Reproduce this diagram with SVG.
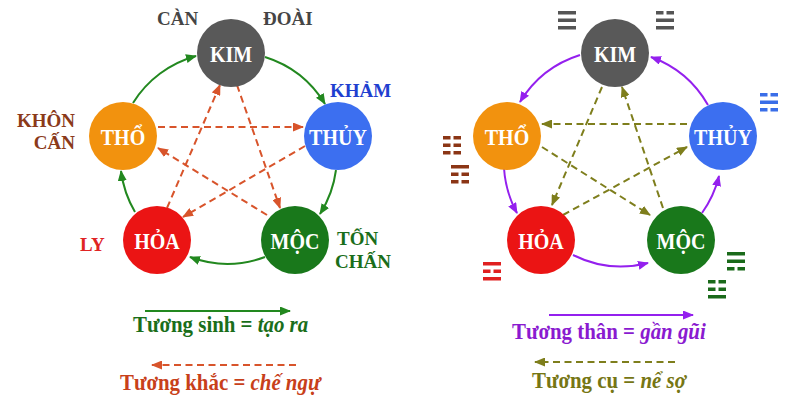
<svg xmlns="http://www.w3.org/2000/svg" xmlns:xlink="http://www.w3.org/1999/xlink" width="800" height="400" viewBox="0 0 800 400">
<style>
.nt{font-family:"Liberation Serif","Times New Roman",serif;font-weight:bold;font-size:23px;fill:#fff;text-anchor:middle}
.lb{font-family:"Liberation Serif","Times New Roman",serif;font-weight:bold;font-size:19px}
.lg{font-family:"Liberation Serif","Times New Roman",serif;font-weight:bold;font-size:24px}
.it{font-style:italic}
.sol{fill:none;stroke-width:2}
.dash{fill:none;stroke-width:2;stroke-dasharray:7 4.5}
.g{stroke:#22881f}
.r{stroke:#d8542b}
.p{stroke:#9420ee}
.o{stroke:#7e7e1c}
</style>
<defs>
<marker id="ag" markerUnits="userSpaceOnUse" markerWidth="11" markerHeight="9" refX="10" refY="4.5" orient="auto"><path d="M0,0 L11,4.5 L0,9 z" fill="#22881f"/></marker>
<marker id="ar" markerUnits="userSpaceOnUse" markerWidth="11" markerHeight="9" refX="10" refY="4.5" orient="auto"><path d="M0,0 L11,4.5 L0,9 z" fill="#d8542b"/></marker>
<marker id="ap" markerUnits="userSpaceOnUse" markerWidth="11" markerHeight="9" refX="10" refY="4.5" orient="auto"><path d="M0,0 L11,4.5 L0,9 z" fill="#9420ee"/></marker>
<marker id="ao" markerUnits="userSpaceOnUse" markerWidth="11" markerHeight="9" refX="10" refY="4.5" orient="auto"><path d="M0,0 L11,4.5 L0,9 z" fill="#7e7e1c"/></marker>
<rect id="yang" width="18" height="3.5"/>
<g id="yin"><rect width="7.5" height="3.5"/><rect x="10.5" width="7.5" height="3.5"/></g>
</defs>
<rect width="800" height="400" fill="#fff"/>

<g id="connectors">
  <!-- left: tuong sinh -->
  <path class="sol g" d="M265,57 A108,108 0 0 1 325,104" marker-end="url(#ag)"/>
  <path class="sol g" d="M336,170 A108,108 0 0 1 320,214" marker-end="url(#ag)"/>
  <path class="sol g" d="M265,257 A108,108 0 0 1 190,257" marker-end="url(#ag)"/>
  <path class="sol g" d="M135,212 A108,108 0 0 1 121,171" marker-end="url(#ag)"/>
  <path class="sol g" d="M133,103 A108,108 0 0 1 196,56" marker-end="url(#ag)"/>
  <!-- left: tuong khac -->
  <path class="dash r" d="M158,127 L303,127" marker-end="url(#ar)"/>
  <path class="dash r" d="M237,85 L280,208" marker-end="url(#ar)"/>
  <path class="dash r" d="M267,215 L158,148" marker-end="url(#ar)"/>
  <path class="dash r" d="M305,146 L183,217" marker-end="url(#ar)"/>
  <path class="dash r" d="M167,208 L220,85" marker-end="url(#ar)"/>
  <!-- right: tuong than -->
  <path class="sol p" d="M580,55 A108,108 0 0 0 520,102" marker-end="url(#ap)"/>
  <path class="sol p" d="M504,168 A108,108 0 0 0 517,213" marker-end="url(#ap)"/>
  <path class="sol p" d="M573,255 A108,108 0 0 0 648,263" marker-end="url(#ap)"/>
  <path class="sol p" d="M702,213 A108,108 0 0 0 719,176" marker-end="url(#ap)"/>
  <path class="sol p" d="M708,105 A108,108 0 0 0 651,57" marker-end="url(#ap)"/>
  <!-- right: tuong cu -->
  <path class="dash o" d="M687,124 L542,124" marker-end="url(#ao)"/>
  <path class="dash o" d="M602,87 L552,205" marker-end="url(#ao)"/>
  <path class="dash o" d="M563,215 L687,147" marker-end="url(#ao)"/>
  <path class="dash o" d="M663,208 L622,87" marker-end="url(#ao)"/>
  <path class="dash o" d="M542,147 L650,215" marker-end="url(#ao)"/>
</g>

<g id="kim-left"><circle cx="231" cy="53" r="34" fill="#595959"/><text class="nt" transform="translate(231,62) scale(0.87,1)">KIM</text></g>
<g id="thuy-left"><circle cx="338" cy="136" r="34" fill="#3c6ff0"/><text class="nt" transform="translate(338,145) scale(0.87,1)">THỦY</text></g>
<g id="moc-left"><circle cx="295" cy="240" r="34" fill="#19781b"/><text class="nt" transform="translate(295,249) scale(0.87,1)">MỘC</text></g>
<g id="hoa-left"><circle cx="157" cy="240" r="34" fill="#eb1414"/><text class="nt" transform="translate(157,249) scale(0.87,1)">HỎA</text></g>
<g id="tho-left"><circle cx="123" cy="136" r="34" fill="#f2920e"/><text class="nt" transform="translate(123,145) scale(0.87,1)">THỔ</text></g>

<g id="kim-right"><circle cx="615" cy="53" r="34" fill="#595959"/><text class="nt" transform="translate(615,62) scale(0.87,1)">KIM</text></g>
<g id="thuy-right"><circle cx="723" cy="136" r="34" fill="#3c6ff0"/><text class="nt" transform="translate(723,145) scale(0.87,1)">THỦY</text></g>
<g id="moc-right"><circle cx="681" cy="240" r="34" fill="#19781b"/><text class="nt" transform="translate(681,249) scale(0.87,1)">MỘC</text></g>
<g id="hoa-right"><circle cx="541" cy="240" r="34" fill="#eb1414"/><text class="nt" transform="translate(541,249) scale(0.87,1)">HỎA</text></g>
<g id="tho-right"><circle cx="507" cy="136" r="34" fill="#f2920e"/><text class="nt" transform="translate(507,145) scale(0.87,1)">THỔ</text></g>

<g id="labels">
  <text class="lb" x="157" y="25" fill="#454545">CÀN</text>
  <text class="lb" x="263" y="25" fill="#454545">ĐOÀI</text>
  <text class="lb" x="330" y="97" fill="#1f3fd0">KHẢM</text>
  <text class="lb" x="75" y="127" fill="#8b3a1a" text-anchor="end">KHÔN</text>
  <text class="lb" x="75" y="149" fill="#8b3a1a" text-anchor="end">CẤN</text>
  <text class="lb" x="80" y="251" fill="#e02424">LY</text>
  <text class="lb" x="337" y="245" fill="#1a6e1a">TỐN</text>
  <text class="lb" x="335" y="268" fill="#1a6e1a">CHẤN</text>
</g>

<g id="trigrams">
  <g id="can" fill="#555"><use xlink:href="#yang" x="558" y="11"/><use xlink:href="#yang" x="558" y="18.5"/><use xlink:href="#yang" x="558" y="26"/></g>
  <g id="doai" fill="#555"><use xlink:href="#yin" x="656" y="11"/><use xlink:href="#yang" x="656" y="18.5"/><use xlink:href="#yang" x="656" y="26"/></g>
  <g id="kham" fill="#3a6ee8"><use xlink:href="#yin" x="760" y="93"/><use xlink:href="#yang" x="760" y="100.5"/><use xlink:href="#yin" x="760" y="108"/></g>
  <g id="khon" fill="#8b3515"><use xlink:href="#yin" x="443" y="136"/><use xlink:href="#yin" x="443" y="143.5"/><use xlink:href="#yin" x="443" y="151"/></g>
  <g id="can2" fill="#8b3515"><use xlink:href="#yang" x="451" y="165"/><use xlink:href="#yin" x="451" y="172.5"/><use xlink:href="#yin" x="451" y="180"/></g>
  <g id="ly" fill="#e02020"><use xlink:href="#yang" x="483" y="262"/><use xlink:href="#yin" x="483" y="269.5"/><use xlink:href="#yang" x="483" y="277"/></g>
  <g id="ton" fill="#1a6a1a"><use xlink:href="#yang" x="727" y="252"/><use xlink:href="#yang" x="727" y="259.5"/><use xlink:href="#yin" x="727" y="267"/></g>
  <g id="chan" fill="#1a6a1a"><use xlink:href="#yin" x="708" y="280"/><use xlink:href="#yin" x="708" y="287.5"/><use xlink:href="#yang" x="708" y="295"/></g>
</g>

<g id="legend">
  <path class="sol g" d="M145,311 L290,311" marker-end="url(#ag)"/>
  <text class="lg" fill="#1a6e1a" transform="translate(133,332) scale(0.87,1)">Tương sinh = <tspan class="it">tạo ra</tspan></text>
  <path class="dash r" d="M296,365 L152,365" marker-end="url(#ar)"/>
  <text class="lg" fill="#c8401a" transform="translate(120,390) scale(0.87,1)">Tương khắc = <tspan class="it">chế ngự</tspan></text>
  <path class="sol p" d="M549,315 L693,315" marker-end="url(#ap)"/>
  <text class="lg" fill="#8a1ad0" transform="translate(512,339) scale(0.87,1)">Tương thân = <tspan class="it">gần gũi</tspan></text>
  <path class="dash o" d="M675,362 L535,362" marker-end="url(#ao)"/>
  <text class="lg" fill="#767614" transform="translate(532,388) scale(0.87,1)">Tương cụ = <tspan class="it">nể sợ</tspan></text>
</g>
</svg>
